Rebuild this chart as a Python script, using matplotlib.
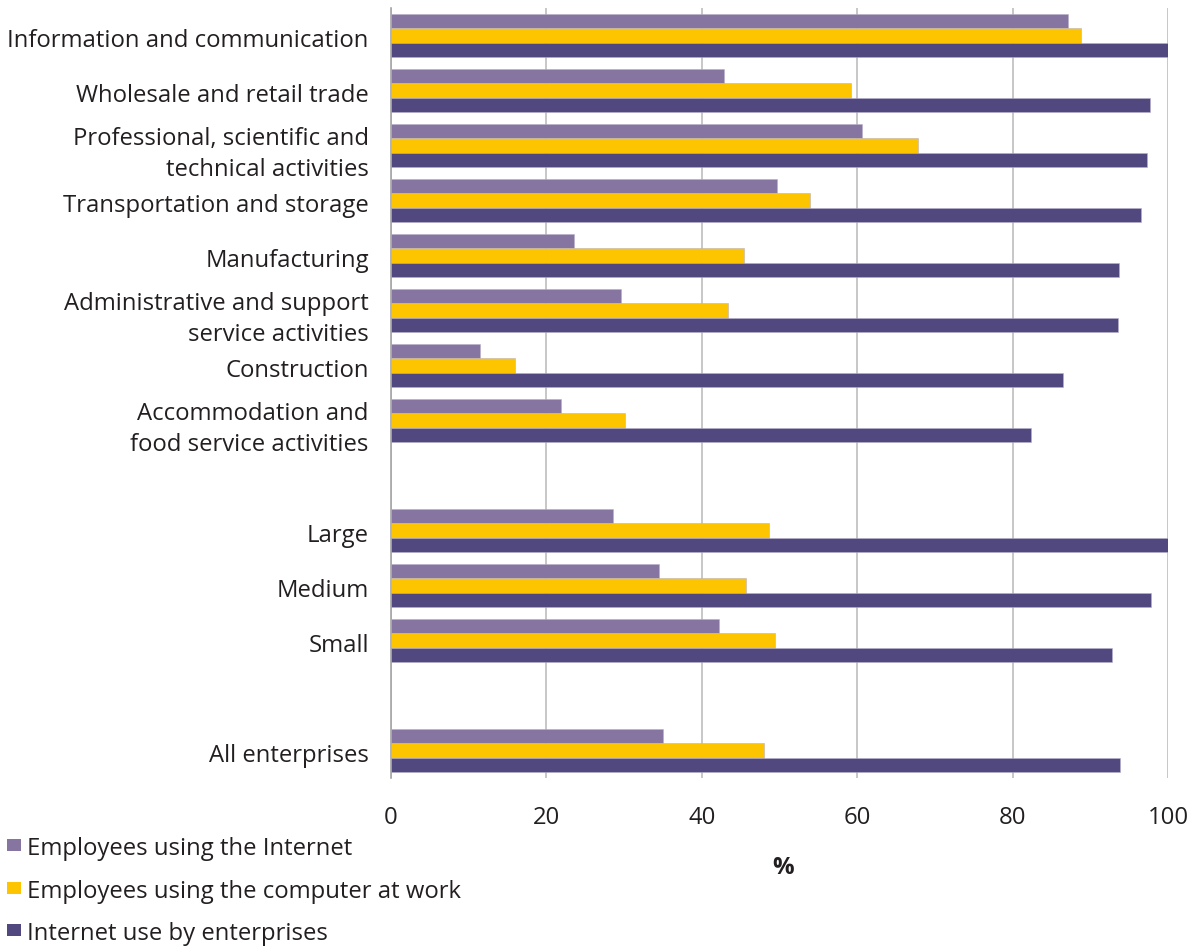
import matplotlib
matplotlib.use("Agg")
import matplotlib.pyplot as plt
from matplotlib.patches import Rectangle
import numpy as np

categories = [
    "Information and communication",
    "Wholesale and retail trade",
    "Professional, scientific and\ntechnical activities",
    "Transportation and storage",
    "Manufacturing",
    "Administrative and support\nservice activities",
    "Construction",
    "Accommodation and\nfood service activities",
    "",
    "Large",
    "Medium",
    "Small",
    "",
    "All enterprises",
]
employees_internet = [87.1, 42.9, 60.6, 49.7, 23.6, 29.6, 11.5, 21.9, np.nan, 28.6, 34.5, 42.2, np.nan, 35.0]
employees_computer = [88.8, 59.2, 67.8, 53.9, 45.4, 43.4, 16.0, 30.1, np.nan, 48.6, 45.7, 49.4, np.nan, 48.0]
internet_enterprises = [100.0, 97.7, 97.3, 96.5, 93.7, 93.6, 86.5, 82.4, np.nan, 100.0, 97.8, 92.8, np.nan, 93.8]
series_names = ["Employees using the Internet", "Employees using the computer at work", "Internet use by enterprises"]
colors = ["#8575A0", "#FDC500", "#524880"]
xticks = [0, 20, 40, 60, 80, 100]

plt.rcParams['font.family'] = ['Open Sans', 'DejaVu Sans']
FS = 17.2
TXT = "#231F20"

fig = plt.figure(figsize=(11.96, 9.5), dpi=100)
ax = fig.add_axes([391/1196, 1-778/950, (1168-391)/1196, 770/950])

n = len(categories)
pos = np.arange(n)
h = 0.264
series = [employees_internet, employees_computer, internet_enterprises]
for i, (vals, c) in enumerate(zip(series, colors)):
    v = np.array(vals, dtype=float)
    mask = ~np.isnan(v)
    ax.barh(pos[mask] + (i - 1) * h, v[mask], height=h, color=c, zorder=3,
            edgecolor="#B8B0C8", linewidth=0.4)

ax.set_ylim(n - 0.5, -0.5)
ax.set_xlim(0, 100)
ax.set_xticks(xticks)
ax.set_xticklabels([str(t) for t in xticks], fontsize=FS, color=TXT)
ax.tick_params(axis="x", length=0, pad=20)
ax.set_yticks(pos + 0.04)
ax.set_yticklabels(categories, fontsize=FS, color=TXT, linespacing=1.4)
ax.tick_params(axis="y", length=0, pad=16)
ax.grid(axis="x", color="#BDBDBD", linewidth=1.2, zorder=0)
ax.grid(axis="y", visible=False)
for s in ["top", "right", "bottom"]:
    ax.spines[s].set_visible(False)
ax.spines["left"].set_color("#A6A6A6")
ax.spines["left"].set_linewidth(1.2)

fig.text(783/1196, 1-868/950, "%", fontsize=FS, fontweight="bold", ha="center", va="center", color=TXT)

for k, (name, c) in enumerate(zip(series_names, colors)):
    yc = 1 - (849 + 42.5 * k) / 950
    fig.patches.append(Rectangle((7/1196, yc - 2/950), 14/1196, 12/950, transform=fig.transFigure,
                                 facecolor=c, edgecolor="none", figure=fig))
    fig.text(27/1196, yc, name, fontsize=FS, ha="left", va="center", color=TXT)

fig.savefig("out.png", dpi=100)
